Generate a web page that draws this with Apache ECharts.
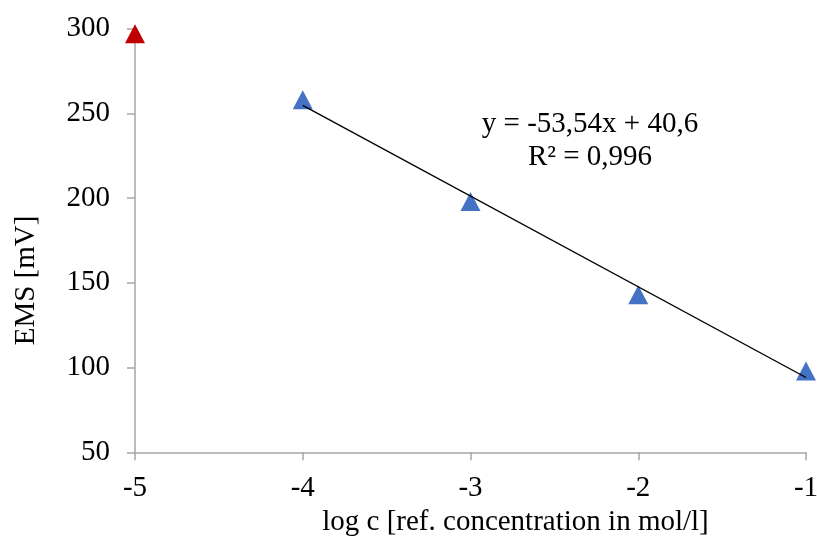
<!DOCTYPE html>
<html>
<head>
<meta charset="utf-8">
<script src="https://cdn.jsdelivr.net/npm/echarts@6/dist/echarts.min.js"></script>
<style>
  html, body { margin: 0; padding: 0; background: #fff; }
  #chart { width: 817px; height: 543px; }
</style>
</head>
<body>
<div id="chart"></div>
<script>
  // log c values and measured EMS
  var logC = [-4, -3, -2, -1]
  var ems = [258, 198, 143, 98]
  // outlier, excluded from the fit
  var outlierX = [-5]
  var outlierY = [297]
  // fit: y = slope * x + intercept
  var slope = -53.54
  var intercept = 40.6
  var fitX = [-4, -1]
  var xTicks = [-5, -4, -3, -2, -1]

  var font = 'Liberation Serif, Times New Roman, serif'
  var axisColor = '#a6a6a6'
  var fs = 29

  var chart = echarts.init(document.getElementById('chart'))
  var option = {
    backgroundColor: '#fff',
    animation: false,
    textStyle: { fontFamily: font },
    grid: { left: 135, right: 11, top: 28.6, bottom: 90.7, outerBoundsMode: 'none', containLabel: false },
    xAxis: {
      type: 'value',
      min: -5,
      max: -1,
      interval: 1,
      name: 'log c [ref. concentration in mol/l]',
      nameLocation: 'middle',
      nameGap: 53,
      nameTextStyle: { fontFamily: font, fontSize: fs, color: '#000', padding: [0, 0, 0, 90] },
      axisLine: { lineStyle: { color: axisColor, width: 1.5 } },
      axisTick: { show: true, inside: false, length: 8, lineStyle: { color: axisColor, width: 1.5 } },
      axisLabel: {
        fontFamily: font, fontSize: fs, color: '#000', margin: 22,
        formatter: function (v) { return xTicks.indexOf(v) >= 0 ? String(v) : '' }
      },
      splitLine: { show: false }
    },
    yAxis: {
      type: 'value',
      min: 50,
      max: 300,
      interval: 50,
      name: 'EMS [mV]',
      nameLocation: 'middle',
      nameGap: 94,
      nameRotate: 90,
      nameTextStyle: { fontFamily: font, fontSize: fs, color: '#000', padding: [0, 80, 0, 0] },
      axisLine: { show: true, lineStyle: { color: axisColor, width: 1.5 } },
      axisTick: { show: true, inside: false, length: 8, lineStyle: { color: axisColor, width: 1.5 } },
      axisLabel: { fontFamily: font, fontSize: fs, color: '#000', margin: 25 },
      splitLine: { show: false }
    },
    series: [
      {
        name: 'fit',
        type: 'line',
        data: fitX.map(function (x) { return [x, slope * x + intercept] }),
        symbol: 'none',
        lineStyle: { color: '#000', width: 1.4 },
        z: 3
      },
      {
        name: 'EMS',
        type: 'scatter',
        data: logC.map(function (x, i) { return [x, ems[i]] }),
        symbol: 'triangle',
        symbolSize: [20, 19],
        itemStyle: { color: '#4472c4', opacity: 1 },
        z: 2
      },
      {
        name: 'outlier',
        type: 'scatter',
        data: outlierX.map(function (x, i) { return [x, outlierY[i]] }),
        symbol: 'triangle',
        symbolSize: [20, 19],
        itemStyle: { color: '#c00000', opacity: 1 },
        clip: false,
        z: 4
      }
    ],
    graphic: [
      {
        type: 'text',
        x: 590,
        y: 108,
        style: {
          text: 'y = -53,54x + 40,6\nR² = 0,996',
          font: fs + 'px ' + font,
          fill: '#000',
          align: 'center',
          lineHeight: 33
        }
      }
    ]
  }
  chart.setOption(option)
</script>
</body>
</html>
